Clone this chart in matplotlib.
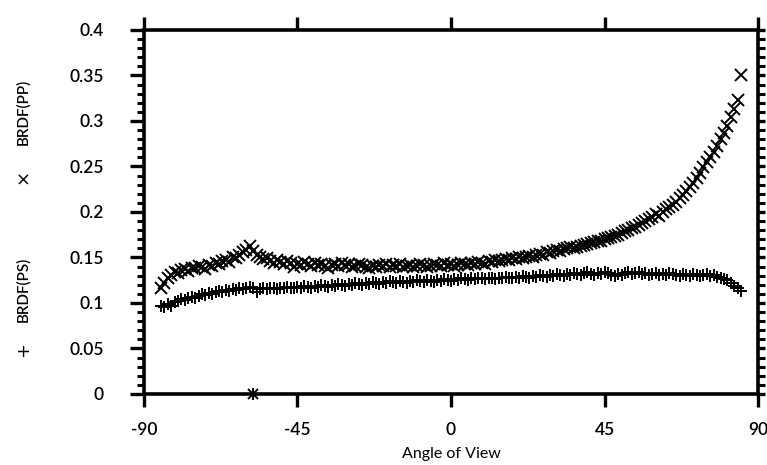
import numpy as np
import matplotlib
matplotlib.use("Agg")
import matplotlib.pyplot as plt
from matplotlib.ticker import MultipleLocator

# ---- data ----
angle_pp = list(range(-85, 85)) + [85]
brdf_pp = [
    0.117, 0.122, 0.128, 0.131, 0.134, 0.133, 0.136, 0.137, 0.135, 0.139,
    0.138, 0.141, 0.140, 0.137, 0.142, 0.141, 0.144, 0.143, 0.146, 0.147,
    0.145, 0.150, 0.149, 0.153, 0.156, 0.158, 0.163, 0.157, 0.153, 0.150,
    0.148, 0.149, 0.146, 0.144, 0.147, 0.145, 0.143, 0.146, 0.144, 0.140,
    0.143, 0.142, 0.145, 0.143, 0.141, 0.144, 0.142, 0.143, 0.141, 0.139,
    0.142, 0.143, 0.141, 0.144, 0.142, 0.143, 0.140, 0.141, 0.143, 0.142,
    0.140, 0.139, 0.141, 0.140, 0.142, 0.141, 0.143, 0.140, 0.142, 0.141,
    0.143, 0.140, 0.141, 0.142, 0.140, 0.141, 0.143, 0.142, 0.140, 0.141,
    0.143, 0.142, 0.141, 0.144, 0.142, 0.143, 0.141, 0.142, 0.144, 0.143,
    0.142, 0.144, 0.143, 0.145, 0.144, 0.143, 0.146, 0.145, 0.147, 0.146,
    0.147, 0.148, 0.147, 0.149, 0.148, 0.150, 0.149, 0.151, 0.152, 0.151,
    0.153, 0.154, 0.153, 0.156, 0.155, 0.157, 0.158, 0.157, 0.159, 0.160,
    0.161, 0.160, 0.162, 0.163, 0.164, 0.165, 0.166, 0.167, 0.168, 0.168,
    0.170, 0.171, 0.172, 0.174, 0.175, 0.177, 0.179, 0.180, 0.182, 0.184,
    0.186, 0.188, 0.190, 0.192, 0.195, 0.198, 0.196, 0.200, 0.203, 0.205,
    0.208, 0.211, 0.215, 0.219, 0.223, 0.227, 0.232, 0.237, 0.243, 0.249,
    0.255, 0.260, 0.266, 0.273, 0.280, 0.287, 0.295, 0.304, 0.313, 0.323,
    0.351,
]

angle_ps = list(range(-85, 86))
brdf_ps = [
    0.097, 0.096, 0.099, 0.097, 0.101, 0.102, 0.104, 0.103, 0.105, 0.107,
    0.106, 0.108, 0.110, 0.109, 0.111, 0.110, 0.112, 0.113, 0.112, 0.114,
    0.113, 0.115, 0.114, 0.116, 0.115, 0.117, 0.118, 0.116, 0.112, 0.115,
    0.116, 0.115, 0.117, 0.116, 0.115, 0.117, 0.116, 0.118, 0.117, 0.116,
    0.118, 0.117, 0.119, 0.118, 0.117, 0.119, 0.118, 0.120, 0.119, 0.118,
    0.120, 0.119, 0.121, 0.120, 0.119, 0.121, 0.120, 0.122, 0.121, 0.120,
    0.122, 0.121, 0.123, 0.122, 0.121, 0.123, 0.122, 0.124, 0.123, 0.122,
    0.124, 0.123, 0.122, 0.124, 0.123, 0.125, 0.124, 0.123, 0.125, 0.124,
    0.123, 0.125, 0.124, 0.126, 0.125, 0.124, 0.126, 0.125, 0.127, 0.126,
    0.125, 0.127, 0.126, 0.128, 0.127, 0.126, 0.128, 0.127, 0.126, 0.128,
    0.127, 0.129, 0.128, 0.127, 0.129, 0.128, 0.130, 0.129, 0.128, 0.130,
    0.129, 0.131, 0.130, 0.129, 0.131, 0.130, 0.132, 0.131, 0.130, 0.132,
    0.131, 0.133, 0.132, 0.131, 0.133, 0.134, 0.132, 0.131, 0.133, 0.132,
    0.134, 0.133, 0.131, 0.130, 0.132, 0.131, 0.133, 0.134, 0.132, 0.133,
    0.134, 0.132, 0.133, 0.131, 0.132, 0.133, 0.131, 0.132, 0.131, 0.133,
    0.132, 0.131, 0.130, 0.132, 0.131, 0.130, 0.132, 0.131, 0.130, 0.131,
    0.132, 0.130, 0.131, 0.129, 0.128, 0.126, 0.125, 0.122, 0.119, 0.116,
    0.113,
]

outlier_angle = [-58]
outlier_value = [0.0]

x_ticks = [-90, -45, 0, 45, 90]
y_ticks = [0, 0.05, 0.1, 0.15, 0.2, 0.25, 0.3, 0.35, 0.4]
y_tick_labels = ["0", "0.05", "0.1", "0.15", "0.2", "0.25", "0.3", "0.35", "0.4"]

# ---- figure ----
plt.rcParams['font.family'] = ['Lato', 'DejaVu Sans']
plt.rcParams['font.weight'] = 'semibold'
fig = plt.figure(figsize=(7.67, 4.65), dpi=100)
ax = fig.add_axes([0.1877, 0.1527, 0.8006, 0.7828])

ax.plot(angle_pp, brdf_pp, linestyle='none', marker='x', color='black',
        markersize=9, markeredgewidth=1.4)
ax.plot(angle_ps, brdf_ps, linestyle='none', marker='+', color='black',
        markersize=9, markeredgewidth=1.4)
ax.plot(outlier_angle, outlier_value, linestyle='none', marker='x', color='black',
        markersize=7, markeredgewidth=1.4, clip_on=False)
ax.plot(outlier_angle, outlier_value, linestyle='none', marker='+', color='black',
        markersize=8, markeredgewidth=1.4, clip_on=False)

ax.set_xlim(-90, 90)
ax.set_ylim(0, 0.4)

for s in ax.spines.values():
    s.set_linewidth(2.6)

ax.set_xticks(x_ticks)
ax.set_xticklabels([str(v) for v in x_ticks])
ax.set_yticks(y_ticks)
ax.set_yticklabels(y_tick_labels)
ax.yaxis.set_minor_locator(MultipleLocator(0.01))

ax.tick_params(axis='x', which='major', direction='out', length=9.4, width=2.4,
               top=True, bottom=True, labelsize=12.5, pad=10.5)
ax.tick_params(axis='y', which='major', direction='out', length=10, width=2.4,
               left=True, right=True, labelsize=12.5, pad=19)
ax.tick_params(axis='y', which='minor', direction='out', length=5, width=2.2,
               left=True, right=True)
for t in ax.yaxis.get_major_ticks():
    t.tick2line.set_markersize(5)

ax.set_xlabel("Angle of View", fontsize=11.5, labelpad=7)

fig.text(0.030, 0.759, "BRDF(PP)", rotation=90, ha='center', va='center', fontsize=11)
fig.text(0.030, 0.6215, "\u00d7", rotation=90, ha='center', va='center', fontsize=13,
         family='DejaVu Sans', fontweight='normal')
fig.text(0.030, 0.377, "BRDF(PS)", rotation=90, ha='center', va='center', fontsize=11)
fig.text(0.030, 0.249, "+", rotation=90, ha='center', va='center', fontsize=13,
         family='DejaVu Sans', fontweight='normal')

fig.savefig("out.png", dpi=100)
